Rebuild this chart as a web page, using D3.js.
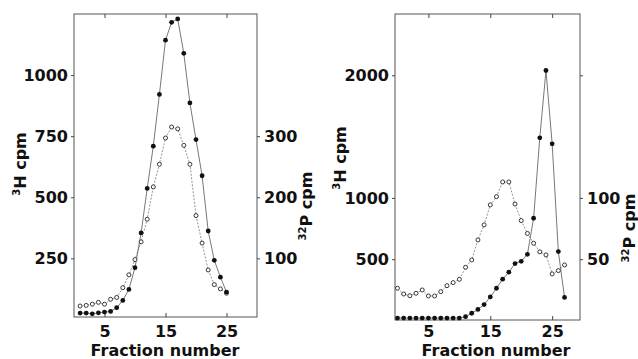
<!DOCTYPE html>
<html>
<head>
<meta charset="utf-8">
<script src="https://cdn.jsdelivr.net/npm/d3@7"></script>
<style>
body { margin: 0; background: #fff; }
svg { display: block; background: #fff; }
text { font-family: "DejaVu Sans", sans-serif; font-weight: bold; fill: #111; }
</style>
</head>
<body>
<svg width="638" height="359"></svg>
<script>
// Left panel, fractions 1-25.
var fracA = [1, 2, 3, 4, 5, 6, 7, 8, 9, 10, 11, 12, 13, 14, 15, 16, 17, 18, 19, 20, 21, 22, 23, 24, 25];
var h3A = [26, 26, 23, 27, 30, 33, 48, 78, 123, 212, 354, 536, 709, 921, 1143, 1216, 1230, 1089, 886, 736, 588, 362, 242, 173, 112];
var p32A = [22, 23, 25, 28, 25, 33, 36, 52, 73, 98, 127, 164, 217, 254, 297, 315, 312, 285, 254, 170, 125, 81, 57, 50, 43];
var leftTicksA = [250, 500, 750, 1000];
var rightTicksA = [100, 200, 300];

// Right panel, fractions 0-27.
var fracB = [0, 1, 2, 3, 4, 5, 6, 7, 8, 9, 10, 11, 12, 13, 14, 15, 16, 17, 18, 19, 20, 21, 22, 23, 24, 25, 26, 27];
var h3B = [20, 20, 20, 20, 20, 20, 20, 20, 20, 20, 20, 31, 59, 90, 130, 192, 263, 337, 394, 464, 483, 540, 834, 1490, 2039, 1441, 562, 188];
var p32B = [26.3, 21.6, 20.2, 22.2, 24.9, 20, 20, 23.5, 28.4, 30.9, 33.6, 43.4, 49.4, 65.7, 78, 94.3, 101, 113, 113, 95, 81.5, 71, 63, 56, 53.5, 38, 40.7, 45.3];
var leftTicksB = [500, 1000, 2000];
var rightTicksB = [50, 100, 200];
var rightLabelsB = [50, 100];

var xTicks = [5, 15, 25];

var svg = d3.select("svg");

function drawPanel(p) {
  var x = d3.scaleLinear().domain(p.xDomain).range([p.left, p.right]);
  var yL = d3.scaleLinear().domain(p.yLDomain).range([p.bottom, p.top]);
  var yR = d3.scaleLinear().domain(p.yRDomain).range([p.bottom, p.top]);

  var g = svg.append("g");

  // Frame round the plot.
  g.append("rect")
    .attr("x", p.left).attr("y", p.top)
    .attr("width", p.right - p.left).attr("height", p.bottom - p.top)
    .attr("fill", "none").attr("stroke", "#555").attr("stroke-width", 1);

  // Left axis, ticks outward.
  var axL = g.append("g")
    .attr("transform", "translate(" + p.left + ",0)")
    .call(d3.axisLeft(yL).tickValues(p.leftTicks).tickSize(3).tickPadding(3)
      .tickFormat(d3.format("d")));

  // Right axis, ticks outward, some ticks unlabelled.
  var axR = g.append("g")
    .attr("transform", "translate(" + p.right + ",0)")
    .call(d3.axisRight(yR).tickValues(p.rightTicks).tickSize(3).tickPadding(4)
      .tickFormat(function(d) { return p.rightLabels.indexOf(d) >= 0 ? d : ""; }));

  // Bottom axis, ticks inward.
  var axB = g.append("g")
    .attr("transform", "translate(0," + p.bottom + ")")
    .call(d3.axisBottom(x).tickValues(xTicks).tickSize(-4).tickFormat(d3.format("d")));
  axB.selectAll("text").attr("y", 337 - p.bottom).attr("dy", 0);

  // Top axis, ticks inward, no labels.
  var axT = g.append("g")
    .attr("transform", "translate(0," + p.top + ")")
    .call(d3.axisTop(x).tickValues(xTicks).tickSize(-4).tickFormat(""));

  [axL, axR, axB, axT].forEach(function(a) {
    a.select(".domain").remove();
    a.selectAll("line").attr("stroke", "#444");
    a.selectAll("text")
      .attr("font-family", "DejaVu Sans, sans-serif")
      .attr("font-weight", "bold")
      .attr("font-size", 16)
      .attr("fill", "#111");
  });

  // 32P: open circles joined by a dotted line.
  var lineR = d3.line()
    .x(function(d, i) { return x(p.frac[i]); })
    .y(function(d) { return yR(d); });
  g.append("path")
    .attr("d", lineR(p.p32))
    .attr("fill", "none").attr("stroke", "#777")
    .attr("stroke-width", 0.8).attr("stroke-dasharray", "2,1.5");

  // 3H: filled circles joined by a thin solid line.
  var lineL = d3.line()
    .x(function(d, i) { return x(p.frac[i]); })
    .y(function(d) { return yL(d); });
  g.append("path")
    .attr("d", lineL(p.h3))
    .attr("fill", "none").attr("stroke", "#555")
    .attr("stroke-width", 0.8);

  g.selectAll(".open")
    .data(p.p32)
    .enter().append("circle")
    .attr("class", "open")
    .attr("cx", function(d, i) { return x(p.frac[i]); })
    .attr("cy", function(d) { return yR(d); })
    .attr("r", 2)
    .attr("fill", "#fff").attr("stroke", "#222").attr("stroke-width", 0.9);

  g.selectAll(".filled")
    .data(p.h3)
    .enter().append("circle")
    .attr("class", "filled")
    .attr("cx", function(d, i) { return x(p.frac[i]); })
    .attr("cy", function(d) { return yL(d); })
    .attr("r", 2.4)
    .attr("fill", "#111");

  // Axis titles.
  var tl = g.append("text")
    .attr("transform", "translate(" + p.leftTitle[0] + "," + p.leftTitle[1] + ") rotate(-90)")
    .attr("text-anchor", "middle")
    .attr("font-size", 16);
  tl.append("tspan").attr("font-size", 10).attr("dy", -6).text("3");
  tl.append("tspan").attr("dy", 6).text("H cpm");

  var tr = g.append("text")
    .attr("transform", "translate(" + p.rightTitle[0] + "," + p.rightTitle[1] + ") rotate(-90)")
    .attr("text-anchor", "middle")
    .attr("font-size", 16);
  tr.append("tspan").attr("font-size", 10).attr("dy", -6).text("32");
  tr.append("tspan").attr("dy", 6).text("P cpm");

  g.append("text")
    .attr("x", p.xTitle).attr("y", 356)
    .attr("text-anchor", "middle")
    .attr("font-size", 16)
    .text("Fraction number");
}

drawPanel({
  frac: fracA, h3: h3A, p32: p32A,
  left: 74, right: 257, top: 14, bottom: 317,
  xDomain: [0, 30], yLDomain: [10, 1250], yRDomain: [4, 500],
  leftTicks: leftTicksA, rightTicks: rightTicksA, rightLabels: rightTicksA,
  leftTitle: [26, 164], rightTitle: [312, 206], xTitle: 165
});

drawPanel({
  frac: fracB, h3: h3B, p32: p32B,
  left: 395, right: 580, top: 14, bottom: 320,
  xDomain: [-0.4, 29.5], yLDomain: [4, 2500], yRDomain: [0.4, 250],
  leftTicks: leftTicksB, rightTicks: rightTicksB, rightLabels: rightLabelsB,
  leftTitle: [346, 158], rightTitle: [635, 228], xTitle: 496
});
</script>
</body>
</html>
